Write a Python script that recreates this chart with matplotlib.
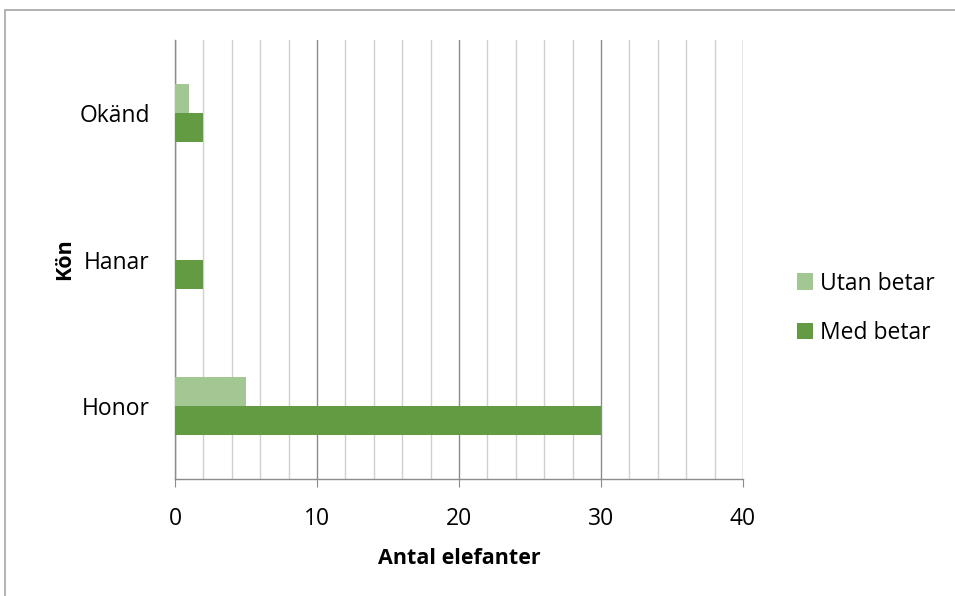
import matplotlib
matplotlib.use("Agg")
import numpy as np
import matplotlib.pyplot as plt
from matplotlib.patches import Rectangle
from matplotlib.ticker import MultipleLocator

plt.rcParams['font.family'] = ['Open Sans', 'DejaVu Sans']

# data
categories = ['Honor', 'Hanar', 'Okänd']
utan_betar = [5, 0, 1]
med_betar = [30, 2, 2]
series_names = ['Utan betar', 'Med betar']

c_light = '#a3c792'
c_dark = '#629b41'

fig = plt.figure(figsize=(9.55, 5.96), dpi=100)
ax = fig.add_axes([0.1832, 0.196, 0.5948, 0.737])

# outer chart frame (only top and left visible)
fig.patches.append(Rectangle((5 / 955, -0.05), 1.2, 1 - 10 / 596 + 0.05,
                             transform=fig.transFigure, fill=False,
                             edgecolor='#a6a6a6', lw=1.2, zorder=0))

y = np.arange(len(categories))
h = 0.2
ax.barh(y + h / 2, utan_betar, height=h, color=c_light, label=series_names[0], zorder=3)
ax.barh(y - h / 2, med_betar, height=h, color=c_dark, label=series_names[1], zorder=3)

ax.set_xlim(0, 40)
ax.set_ylim(-0.5, 2.5)
ax.xaxis.set_major_locator(MultipleLocator(10))
ax.xaxis.set_minor_locator(MultipleLocator(2))
ax.grid(which='major', axis='x', color='#8c8c8c', lw=1.0, zorder=1)
ax.grid(which='minor', axis='x', color='#cfcfcf', lw=1.0, zorder=1)

ax.set_yticks(y)
ax.set_yticklabels(categories)
ax.tick_params(axis='y', length=0, pad=18, labelsize=16.5)
ax.tick_params(axis='x', which='major', length=6, color='#8c8c8c', labelsize=16.5, pad=14)
ax.tick_params(axis='x', which='minor', length=0)

for s in ['top', 'right']:
    ax.spines[s].set_visible(False)
for s in ['left', 'bottom']:
    ax.spines[s].set_color('#8c8c8c')
    ax.spines[s].set_linewidth(1.0)

ax.set_xlabel('Antal elefanter', fontsize=15.5, fontweight='bold', labelpad=12)
ax.set_ylabel('Kön', fontsize=15.5, fontweight='bold', labelpad=3)

ax.legend(loc='center left', bbox_to_anchor=(0.835, 0.483),
          bbox_transform=fig.transFigure, frameon=False,
          fontsize=16.5, handlelength=0.7, handleheight=0.7, handletextpad=0.3,
          labelspacing=1.1, borderpad=0, borderaxespad=0)

fig.savefig('out.png', dpi=100)
